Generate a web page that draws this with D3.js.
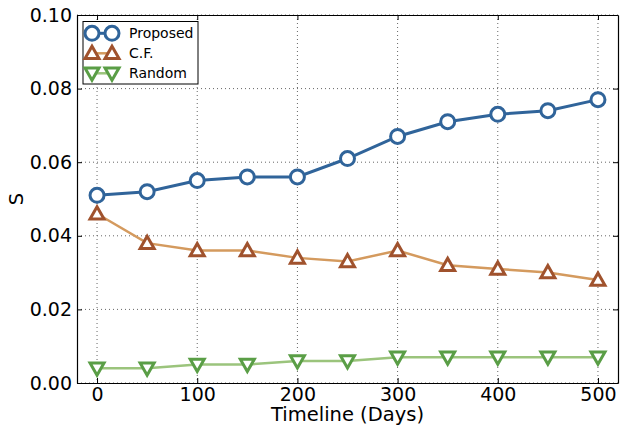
<!DOCTYPE html>
<html lang="en">
<head>
    <meta charset="UTF-8" />
    <title>S over timeline</title>
    <script src="https://d3js.org/d3.v7.min.js"></script>
    <style>
        body { margin: 0; background: #fff; }
        text { font-family: "DejaVu Sans", sans-serif; }
    </style>
</head>
<body>
    <script>
        // data
        var days = [0, 50, 100, 150, 200, 250, 300, 350, 400, 450, 500];
        var proposed = [0.051, 0.052, 0.055, 0.056, 0.056, 0.061, 0.067, 0.071, 0.073, 0.074, 0.077];
        var cf = [0.046, 0.038, 0.036, 0.036, 0.034, 0.033, 0.036, 0.032, 0.031, 0.030, 0.028];
        var random = [0.004, 0.004, 0.005, 0.005, 0.006, 0.006, 0.007, 0.007, 0.007, 0.007, 0.007];
        var xTicks = [0, 100, 200, 300, 400, 500];
        var yTicks = [0.00, 0.02, 0.04, 0.06, 0.08, 0.10];

        var series = [
            { name: "Proposed", values: proposed, line: "#30649a", edge: "#30649a", shape: "circle", lw: 3 },
            { name: "C.F.", values: cf, line: "#d49a5e", edge: "#a0522d", shape: "up", lw: 2.5 },
            { name: "Random", values: random, line: "#9bc47c", edge: "#5a9e46", shape: "down", lw: 2.5 }
        ];

        var w = 624, h = 426;
        var mLeft = 77, mRight = 618, mTop = 15, mBottom = 383;

        var xScale = d3.scaleLinear().domain([-20, 520]).range([mLeft, mRight]);
        var yScale = d3.scaleLinear().domain([0, 0.10]).range([mBottom, mTop]);

        var svg = d3.select("body").append("svg")
            .attr("width", w)
            .attr("height", h);

        // grid
        svg.append("g").selectAll("line").data(xTicks).enter().append("line")
            .attr("x1", function (d) { return xScale(d); })
            .attr("x2", function (d) { return xScale(d); })
            .attr("y1", mTop).attr("y2", mBottom)
            .attr("stroke", "#666").attr("stroke-width", 1).attr("stroke-dasharray", "1,3");
        svg.append("g").selectAll("line").data(yTicks).enter().append("line")
            .attr("y1", function (d) { return yScale(d); })
            .attr("y2", function (d) { return yScale(d); })
            .attr("x1", mLeft).attr("x2", mRight)
            .attr("stroke", "#666").attr("stroke-width", 1).attr("stroke-dasharray", "1,3");

        // axes, ticks pointing in, on all four sides
        var xAxis = d3.axisBottom(xScale).tickValues(xTicks).tickSizeInner(-5).tickSizeOuter(0).tickPadding(4);
        var yAxis = d3.axisLeft(yScale).tickValues(yTicks).tickFormat(d3.format(".2f")).tickSizeInner(-5).tickSizeOuter(0).tickPadding(5);

        svg.append("g").attr("transform", "translate(0," + mBottom + ")").call(xAxis);
        svg.append("g").attr("transform", "translate(" + mLeft + ",0)").call(yAxis);
        svg.append("g").attr("transform", "translate(0," + mTop + ")")
            .call(d3.axisTop(xScale).tickValues(xTicks).tickSizeInner(-5).tickSizeOuter(0).tickFormat(""));
        svg.append("g").attr("transform", "translate(" + mRight + ",0)")
            .call(d3.axisRight(yScale).tickValues(yTicks).tickSizeInner(-5).tickSizeOuter(0).tickFormat(""));

        svg.selectAll(".domain").attr("stroke", "#000").attr("stroke-width", 1.2);
        svg.selectAll(".tick line").attr("stroke", "#000");
        svg.selectAll(".tick text").attr("font-size", "19px").attr("fill", "#000")
            .attr("font-family", "DejaVu Sans, sans-serif");

        // axis labels
        svg.append("text").attr("x", (mLeft + mRight) / 2).attr("y", 421)
            .attr("text-anchor", "middle").attr("font-size", "19.5px").text("Timeline (Days)");
        svg.append("text").attr("transform", "translate(23," + 199 + ") rotate(-90)")
            .attr("text-anchor", "middle").attr("font-size", "19.5px").text("S");

        function marker(g, shape, cx, cy, s) {
            if (shape === "circle") {
                g.append("circle").attr("cx", cx).attr("cy", cy).attr("r", 7)
                    .attr("fill", "#fff").attr("stroke", s.edge).attr("stroke-width", 3);
            } else {
                var r = 7;
                var pts = shape === "up"
                    ? [[cx, cy - r], [cx - r, cy + r * 0.75], [cx + r, cy + r * 0.75]]
                    : [[cx, cy + r], [cx - r, cy - r * 0.75], [cx + r, cy - r * 0.75]];
                g.append("polygon").attr("points", pts.map(function (p) { return p.join(","); }).join(" "))
                    .attr("fill", "#fff").attr("stroke", s.edge).attr("stroke-width", 3)
                    .attr("stroke-linejoin", "miter");
            }
        }

        var line = d3.line()
            .x(function (d) { return xScale(d[0]); })
            .y(function (d) { return yScale(d[1]); });

        // draw from back to front so Proposed is on top
        series.slice().reverse().forEach(function (s) {
            var pts = days.map(function (d, i) { return [d, s.values[i]]; });
            var g = svg.append("g");
            g.append("path").datum(pts).attr("d", line)
                .attr("fill", "none").attr("stroke", s.line).attr("stroke-width", s.lw);
            pts.forEach(function (p) {
                marker(g, s.shape, xScale(p[0]), yScale(p[1]), s);
            });
        });

        // legend
        var lg = svg.append("g");
        lg.append("rect").attr("x", 83).attr("y", 21.5).attr("width", 115).attr("height", 62.5)
            .attr("fill", "#fff").attr("stroke", "#000").attr("stroke-width", 1);
        series.forEach(function (s, i) {
            var y = 33.3 + i * 20;
            lg.append("line").attr("x1", 92).attr("x2", 112).attr("y1", y).attr("y2", y)
                .attr("stroke", s.line).attr("stroke-width", s.lw);
            marker(lg, s.shape, 92, y, s);
            marker(lg, s.shape, 112, y, s);
            lg.append("text").attr("x", 129).attr("y", y).attr("dy", "0.35em")
                .attr("font-size", "14px").text(s.name);
        });
    </script>
</body>
</html>
